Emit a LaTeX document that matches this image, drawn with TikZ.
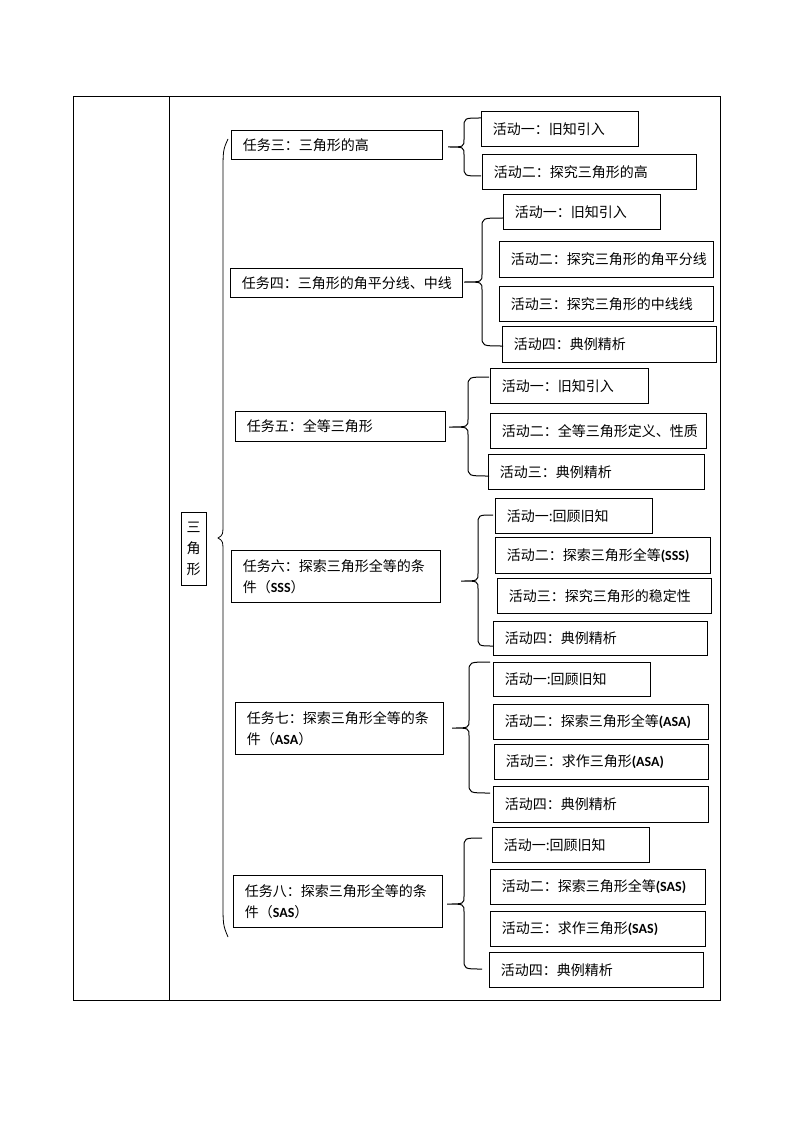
\documentclass[tikz,border=0pt]{standalone}
\usepackage{fontspec}
\setmainfont{Noto Sans CJK SC}
\newfontfamily\carl{Carlito}
\newcommand\cbx[1]{{\carl\bfseries #1}}
\newcommand\bx[6]{%
  \pgfmathsetmacro\bw{(#4-#2)*0.75}%
  \pgfmathsetmacro\bh{(#5-#3)*0.75}%
  \pgfmathsetmacro\tw{\bw-17}%
  \node[box, text width=\tw pt, minimum height=\bh pt] (#1) at (#2,#3) {#6};}
\newcommand\curly[7]{%
  \coordinate (#1tip) at (#2,#3);
  \coordinate (#1top) at (#5,#6);
  \coordinate (#1bot) at (#5,#7);
  \draw[curlyln] (#1top) .. controls (#4,#6) .. ({#4},{#6+10}) -- ({#4},{#3-8})
    .. controls (#4,#3) .. (#1tip) .. controls (#4,#3) .. ({#4},{#3+8})
    -- ({#4},{#7-10}) .. controls (#4,#7) .. (#1bot);}
\begin{document}
\begin{tikzpicture}[x=0.75pt,y=-0.75pt,
  box/.style={draw, line width=0.75pt, anchor=north west, inner xsep=8.5pt, inner ysep=0pt,
    align=left, font=\fontsize{10.5}{15.5}\selectfont},
  curlyln/.style={line width=0.75pt},
  tbl/.style={line width=0.75pt}]
\useasboundingbox (0,0) rectangle (794,1123);
% table
\draw[tbl] (73,97) rectangle (720,1000);
\draw[tbl] (169,97) -- (169,1000);
% root
\node[draw, line width=0.75pt, minimum width=18.75pt, minimum height=54.75pt, inner sep=0pt,
  align=center, font=\fontsize{10.5}{15.75}\selectfont] (root) at (193.5,548.5) {三\\角\\形};
% big brace
\coordinate (Btop) at (228,139);
\coordinate (Btip) at (218,538);
\coordinate (Bbot) at (228,937);
\draw[line width=0.6pt] (Btop) .. controls (223,150) .. (223,175) -- (223,522)
  .. controls (223,535) .. (Btip) .. controls (223,541) .. (223,554)
  -- (223,900) .. controls (223,925) .. (Bbot);
% task 3
\bx{t3}{231}{130}{442}{159}{任务三：三角形的高}
\bx{a31}{481}{111}{638}{146}{活动一：旧知引入}
\bx{a32}{482}{154}{696}{189}{活动二：探究三角形的高}
\curly{c3}{448}{147}{464}{481}{118}{176}
% task 4
\bx{t4}{230}{268}{462}{297}{任务四：三角形的角平分线、中线}
\bx{a41}{503}{194}{660}{229}{活动一：旧知引入}
\bx{a42}{499}{241}{713}{277}{活动二：探究三角形的角平分线}
\bx{a43}{499}{286}{713}{321}{活动三：探究三角形的中线线}
\bx{a44}{502}{326}{716}{362}{活动四：典例精析}
\curly{c4}{464}{282}{482}{503}{218}{346}
% task 5
\bx{t5}{235}{411}{445}{441}{任务五：全等三角形}
\bx{a51}{490}{368}{648}{403}{活动一：旧知引入}
\bx{a52}{490}{413}{706}{448}{活动二：全等三角形定义、性质}
\bx{a53}{488}{454}{704}{489}{活动三：典例精析}
\curly{c5}{449}{427}{468}{489}{377}{476}
% task 6
\bx{t6}{231}{550}{440}{602}{任务六：探索三角形全等的条\\件（\cbx{SSS}）}
\bx{a61}{495}{498}{652}{533}{活动一:回顾旧知}
\bx{a62}{495}{537}{710}{573}{活动二：探索三角形全等\cbx{(SSS)}}
\bx{a63}{497}{578}{711}{613}{活动三：探究三角形的稳定性}
\bx{a64}{493}{621}{707}{655}{活动四：典例精析}
\curly{c6}{461}{581}{478}{493}{515}{646}
% task 7
\bx{t7}{235}{702}{443}{754}{任务七：探索三角形全等的条\\件（\cbx{ASA}）}
\bx{a71}{493}{662}{650}{696}{活动一:回顾旧知}
\bx{a72}{493}{704}{708}{739}{活动二：探索三角形全等\cbx{(ASA)}}
\bx{a73}{494}{744}{708}{779}{活动三：求作三角形\cbx{(ASA)}}
\bx{a74}{493}{786}{708}{822}{活动四：典例精析}
\curly{c7}{452}{728}{469}{490}{662}{793}
% task 8
\bx{t8}{233}{875}{442}{927}{任务八：探索三角形全等的条\\件（\cbx{SAS}）}
\bx{a81}{492}{827}{649}{862}{活动一:回顾旧知}
\bx{a82}{490}{869}{705}{904}{活动二：探索三角形全等\cbx{(SAS)}}
\bx{a83}{490}{911}{705}{946}{活动三：求作三角形\cbx{(SAS)}}
\bx{a84}{489}{952}{703}{987}{活动四：典例精析}
\curly{c8}{447}{904}{464}{482}{838}{969}
\end{tikzpicture}
\end{document}
